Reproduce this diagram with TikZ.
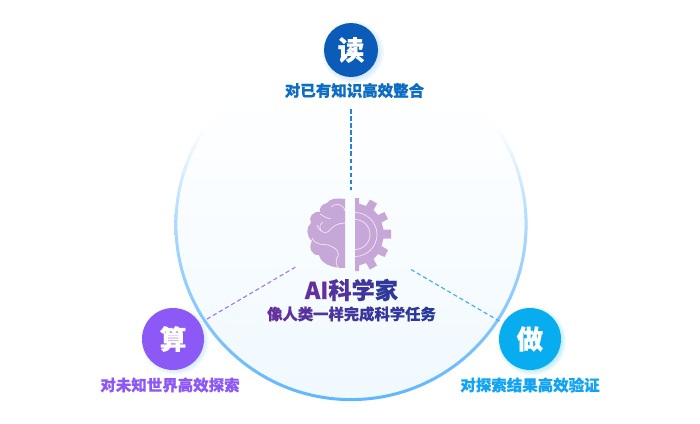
\documentclass[tikz,border=0pt]{standalone}
\usepackage{fontspec}
\usepackage{xcolor}
\setmainfont{Noto Sans CJK SC}[BoldFeatures={FakeBold=0.4}]
\definecolor{dublue}{HTML}{0B5CB8}
\definecolor{dutext}{HTML}{0D6CC4}
\definecolor{duline}{HTML}{1F86D8}
\definecolor{suanpurple}{HTML}{8C58F6}
\definecolor{suanline}{HTML}{A078F4}
\definecolor{zuoblue}{HTML}{08ADEF}
\definecolor{zuotext}{HTML}{12A4F4}
\definecolor{zuoline}{HTML}{3FAEF7}
\definecolor{lilac}{HTML}{C7A6D8}
\definecolor{titleleft}{HTML}{63309E}
\definecolor{titleright}{HTML}{1F3A9A}
\definecolor{ringblue}{HTML}{5FB6FF}
\definecolor{ringmid}{HTML}{ACD9FF}
\definecolor{discblue}{HTML}{F0F9FF}
\pgfdeclareverticalshading{ringfade}{100bp}{color(0bp)=(ringblue); color(25bp)=(ringblue); color(50bp)=(ringmid); color(64bp)=(white); color(100bp)=(white)}
\pgfdeclareverticalshading{discfade}{100bp}{color(0bp)=(discblue); color(25bp)=(discblue); color(70bp)=(white); color(100bp)=(white)}
\tikzset{
    round label/.style={circle,minimum size=#1,inner sep=0pt,text=white,font=\fontsize{19}{19}\selectfont\bfseries},
    task label/.style={font=\fontsize{11}{11}\selectfont\bfseries},
    dash line/.style={line width=0.8pt,dash pattern=on 3pt off 2pt},
    sulcus/.style={draw=white!75!lilac,line width=0.5pt,fill=none}
}

\begin{document}
\begin{tikzpicture}[x=0.025cm,y=-0.025cm]
    \useasboundingbox (0,0) rectangle (700,423);
    % big circle
    \path[shading=discfade] (351,224.5) circle (175);
    \path[shading=ringfade,even odd rule] (351,224.5) circle (176.6) (351,224.5) circle (173.6);
    % soft glow under the round labels
    \foreach \gx/\gy/\gr/\gc in {353/52/31/ringblue,175/341/34/ringblue,532/341/34/cyan}{
        \foreach \k in {0,1,2,3}
            \fill[\gc,opacity=0.07] (\gx,\gy) circle (\gr-\k*1.5);
    }
    \coordinate (hub) at (351,234.5);
    \node[round label=54*0.025cm,fill=dublue] (du) at (351,50) {读};
    \node[round label=62*0.025cm,fill=suanpurple] (suan) at (173,339) {算};
    \node[round label=62*0.025cm,fill=zuoblue] (zuo) at (530,339) {做};
    \node[task label,text=dutext] (dulabel) at (354.5,90.5) {对已有知识高效整合};
    \node[task label,text=suanpurple] (suanlabel) at (170,385) {对未知世界高效探索};
    \node[task label,text=zuotext] (zuolabel) at (530,385) {对探索结果高效验证};
    % connectors
    \draw[dash line,duline,shorten <=0.8cm,shorten >=1.11cm] (du) -- (hub);
    \draw[dash line,suanline,shorten <=0.2cm,shorten >=1.61cm] (suan) -- (hub);
    \draw[dash line,zuoline,shorten <=0.1cm,shorten >=1.74cm] (zuo) -- (hub);
    % brain half
    \fill[lilac] (345,199) .. controls (338,198) and (330,198) .. (327,203)
        .. controls (322,204) and (319,208) .. (320,212)
        .. controls (313,211) and (308,217) .. (311,223)
        .. controls (306,227) and (306,236) .. (312,241)
        .. controls (308,248) and (312,256) .. (319,255)
        .. controls (321,263) and (330,268) .. (345,268) -- cycle;
    \draw[sulcus] (331,207) .. controls (335,203) and (343,203) .. (345,211);
    \draw[sulcus] (320,214) .. controls (323,216) and (326,218) .. (331,219);
    \draw[sulcus] (317,225) .. controls (320,233) and (326,234) .. (329,231)
        .. controls (333,226) and (338,223) .. (345,223);
    \draw[sulcus] (321,231) .. controls (319,226) and (320,224) .. (323,222);
    \draw[sulcus] (312,238) .. controls (316,246) and (324,244) .. (328,245)
        .. controls (336,248) and (341,252) .. (337,258) .. controls (335,262) and (337,265) .. (338,268);
    % gear half
    \fill[lilac] (355,198) -- (359,198) -- (359,203.5) -- (366,206) -- (370,199.5) -- (377,203.5)
        -- (373.5,210) -- (378,215) -- (384.5,212) -- (388,219) -- (381.5,222.5) -- (383.5,229.5)
        -- (391,229.5) -- (391,238.5) -- (383.5,238.5) -- (381.5,246) -- (388,250) -- (384.5,257)
        -- (378,254) -- (373.5,259) -- (377,265.5) -- (370,269.5) -- (366,263) -- (359,265.5)
        -- (359,271) -- (355,271) -- cycle;
    \draw[sulcus] (355,212.5) arc (-90:90:22);
    \draw[sulcus] (355,219.5) arc (-90:90:15);
    % title
    \node[text=titleleft,font=\fontsize{16.5}{16.5}\selectfont\bfseries] (title) at (351.5,290) {%
        \textcolor{titleleft}{AI}\textcolor{titleleft!75!titleright}{科}\textcolor{titleleft!50!titleright}{学}\textcolor{titleleft!25!titleright}{家}};
    \node[font=\fontsize{10.9}{10.9}\selectfont\bfseries] (subtitle) at (351.5,314) {%
        \foreach \c [count=\i, evaluate=\i as \m using int(100-(\i-1)*9)] in {像,人,类,一,样,完,成,科,学,任,务}{\textcolor{titleleft!\m!titleright}{\c}}};
\end{tikzpicture}
\end{document}
